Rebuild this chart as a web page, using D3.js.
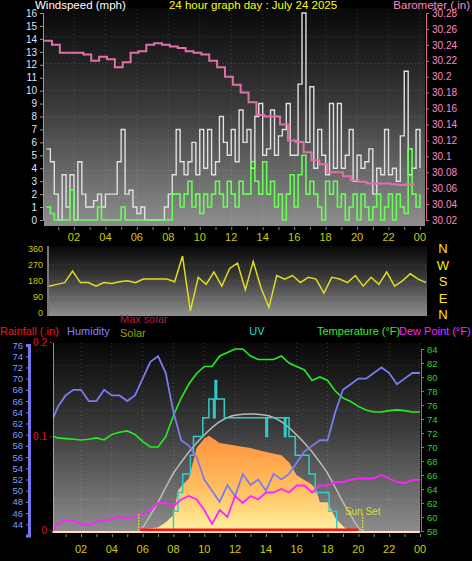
<!DOCTYPE html>
<html>
<head>
<meta charset="utf-8">
<script src="https://cdn.jsdelivr.net/npm/d3@7"></script>
<style>
  body { margin: 0; background: #000; }
  svg { display: block; font-family: "Liberation Sans", sans-serif; }
</style>
</head>
<body>
<svg id="chart" width="472" height="561"></svg>
<script>
// ---- data ----
const hourTicks = ['02', '04', '06', '08', '10', '12', '14', '16', '18', '20', '22', '00'];

// wind, every 15 min from 00:15
const windGust = [
  5.5, 4.5, 2, 0, 3.5, 1, 3.5, 0, 4.5, 2, 1, 1, 1.5, 2, 1, 2,
  2, 2, 4.5, 7, 2, 2.3, 1, 0.5, 1, 0, 0, 0, 0, 0, 1, 2,
  3.5, 7, 4.5, 3.5, 4.5, 6, 3.5, 7, 4, 7, 3.5, 4.5, 8, 6, 5, 7,
  4.5, 8.5, 6, 7, 4, 8, 9, 5, 5.5, 8.5, 5, 6.5, 7, 9, 5, 5,
  10.5, 16, 6, 10.3, 4, 7, 5, 3.5, 9, 4, 9, 4, 5, 7, 3, 5,
  4, 4.5, 5.5, 2, 4, 3.5, 7, 3.5, 4, 3, 6.5, 11.5, 3.5, 4, 7, 4
];
const windAvg = [
  1, 0.5, 0, 0, 0, 0, 2.3, 0, 0, 0, 0, 0, 0, 1, 0, 0,
  0, 0, 0, 1, 0, 0, 0, 0, 0, 0, 0, 0, 0, 0, 0, 0,
  2, 2, 1, 2, 3, 1, 2, 0.5, 2, 1, 2, 3, 2, 1, 3, 2,
  1, 3, 2, 2, 4.5, 3, 2, 4.5, 2, 3, 1, 2, 0, 2, 3.5, 1,
  3.5, 5, 2, 3, 2, 1, 0, 3, 2, 3, 1, 2, 0, 1, 2, 0,
  2, 1, 0, 1, 2, 0, 1, 2, 0, 2, 1, 0.5, 5.5, 2, 1, 2
];
// barometer, every 30 min from 00:30
const barometer = [
  30.245, 30.24, 30.23, 30.23, 30.23, 30.228, 30.22, 30.225, 30.222, 30.212,
  30.218, 30.23, 30.232, 30.24, 30.242, 30.24, 30.238, 30.236, 30.232, 30.23,
  30.228, 30.22, 30.212, 30.2, 30.19, 30.18, 30.168, 30.152, 30.15, 30.15,
  30.14, 30.12, 30.118, 30.105, 30.095, 30.09, 30.08, 30.08, 30.075, 30.07,
  30.068, 30.066, 30.066, 30.066, 30.065, 30.064, 30.065, 30.064
];
// wind direction, every 30 min from 00:00
const windDir = [
  150, 160, 170, 235, 170, 170, 150, 170, 165, 175, 180, 170, 190, 190, 190, 190,
  175, 320, 10, 200, 160, 230, 150, 250, 280, 130, 290, 140, 30, 210, 190, 210,
  170, 200, 190, 110, 200, 190, 170, 210, 150, 200, 160, 230, 150, 180, 220, 190, 170
];
// bottom panel, every 30 min from 00:00
const humidity = [
  63, 65, 67, 68, 68, 66, 66, 68, 67, 67, 66, 67, 70, 73, 74, 71,
  64, 59, 58, 56, 52, 50, 48, 51, 49, 53, 51, 52, 50, 53, 52, 53,
  55, 57, 58, 59, 59, 64, 68, 69, 70, 70, 71, 72, 71, 69, 70, 71, 71
];
const temperature = [
  71.5, 71.3, 71.2, 71.1, 71, 71.1, 71.3, 71, 71.8, 72.1, 72.3, 71.8, 70.8, 70, 70, 71.5,
  74.5, 77, 79, 80.5, 81.5, 81.5, 83, 83.5, 84, 84, 83, 82.5, 82.5, 82.5, 83, 82,
  81.5, 81, 79.5, 80, 79.5, 78, 77, 76.5, 75.8, 75.3, 75, 75, 75.2, 75.3, 75.2, 75, 75
];
const dewPoint = [
  58.2, 59, 59.5, 59.5, 59, 58.8, 59.3, 59.5, 59.7, 60, 59.8, 60, 60.5, 61, 62, 62,
  61.5, 62.5, 63, 62.5, 61, 59, 61, 60, 63, 62, 63, 62.5, 63.5, 63.5, 64, 63.5,
  64.5, 64.5, 63.5, 64.5, 64.5, 65, 65, 65.3, 65.5, 65.5, 65.5, 66, 65.5, 65, 64.8, 65.3, 65.3
];
const maxSolarHours = [5.8, 6, 6.5, 7, 7.5, 8, 8.5, 9, 9.5, 10, 11, 12, 13, 14, 15, 16, 16.5, 17, 17.5, 18, 18.5, 19, 19.5, 20, 20.2];
const maxSolar = [0, 20, 116, 217, 330, 440, 525, 605, 675, 737, 840, 890, 900, 890, 840, 737, 675, 605, 525, 440, 330, 217, 116, 20, 0];
const solarHours = [5.8, 6, 7, 7.5, 8, 8.3, 8.6, 9, 9.5, 10, 10.3, 11, 12, 13, 14, 15, 15.5, 16, 17, 17.3, 17.5, 18, 18.5, 19, 19.3];
const solar = [0, 5, 20, 60, 116, 310, 350, 400, 635, 710, 730, 675, 655, 635, 605, 580, 525, 425, 350, 300, 215, 215, 93, 30, 0];
const uvHours = [7.9, 8.0, 8.3, 8.6, 9.1, 9.3, 9.9, 10.3, 10.6, 10.7, 10.8, 11.3, 14.0, 14.1, 15.2, 15.3, 15.5, 15.9, 16.8, 17.2, 18.1, 18.6];
const uv = [0, 1, 2, 3, 4, 5, 6, 7, 6, 8, 7, 6, 5, 6, 5, 6, 5, 4, 3, 2, 1, 0];
const rainHours = [5.8, 20];
const rain = [0, 0];
const sunHours = [5.75, 20.28];

const svg = d3.select('#chart');
svg.append('rect').attr('width', 472).attr('height', 561).attr('fill', '#000');

const defs = svg.append('defs');
const bg = defs.append('linearGradient').attr('id', 'bg').attr('x1', 0).attr('y1', 0).attr('x2', 0).attr('y2', 1);
bg.append('stop').attr('offset', '0%').attr('stop-color', '#080808');
bg.append('stop').attr('offset', '45%').attr('stop-color', '#3a3a3a');
bg.append('stop').attr('offset', '100%').attr('stop-color', '#8e8e8e');

const sunGrad = defs.append('linearGradient').attr('id', 'sun')
  .attr('gradientUnits', 'userSpaceOnUse').attr('x1', 0).attr('y1', 440).attr('x2', 0).attr('y2', 530);
sunGrad.append('stop').attr('offset', '0%').attr('stop-color', '#ff9440');
sunGrad.append('stop').attr('offset', '55%').attr('stop-color', '#ffc060');
sunGrad.append('stop').attr('offset', '100%').attr('stop-color', '#fff0a0');

const yellow = '#cccc00';
const label = (x, y, t, color, size, anchor) => svg.append('text')
  .attr('x', x).attr('y', y).attr('fill', color).attr('font-size', size)
  .attr('text-anchor', anchor || 'start').text(t);

const gridLines = (g, xs, ys, x, y) => {
  g.selectAll(null).data(xs).join('line')
    .attr('x1', d => x(d)).attr('x2', d => x(d)).attr('y1', y.range()[1]).attr('y2', y.range()[0])
    .attr('stroke', 'rgba(255,255,255,0.18)').attr('stroke-dasharray', '1,3');
  g.selectAll(null).data(ys).join('line')
    .attr('x1', x.range()[0]).attr('x2', x.range()[1]).attr('y1', d => y(d)).attr('y2', d => y(d))
    .attr('stroke', 'rgba(255,255,255,0.18)').attr('stroke-dasharray', '1,3');
};
const hourVals = d3.range(2, 25, 2);

// ================= top panel =================
const xTop = d3.scaleLinear().domain([0, 24.3]).range([42.5, 424.7]);
const yWind = d3.scaleLinear().domain([0, 16]).range([220, 13]);
const yBaro = d3.scaleLinear().domain([30.02, 30.28]).range([220, 13]);

svg.append('rect').attr('x', 44).attr('y', 8).attr('width', 381).attr('height', 218).attr('fill', 'url(#bg)');
const topG = svg.append('g');
gridLines(topG, hourVals, d3.range(2, 16, 2), xTop, d3.scaleLinear().domain([0, 16]).range([224, 10]));

const windHours = windGust.map((d, i) => 0.25 * (i + 1));
topG.append('path').datum(windGust)
  .attr('d', d3.line().x((d, i) => xTop(windHours[i])).y(d => yWind(d)).curve(d3.curveStepAfter))
  .attr('fill', 'none').attr('stroke', '#e0e0e0').attr('stroke-width', 1.4);
topG.append('path').datum(windAvg)
  .attr('d', d3.line().x((d, i) => xTop(windHours[i])).y(d => yWind(d)).curve(d3.curveStepAfter))
  .attr('fill', 'none').attr('stroke', '#66ff55').attr('stroke-width', 1.6);
topG.append('path').datum(barometer)
  .attr('d', d3.line().x((d, i) => xTop(0.5 * (i + 1) - 0.4)).y(d => yBaro(d)).curve(d3.curveStepAfter))
  .attr('fill', 'none').attr('stroke', '#e070a8').attr('stroke-width', 2);

svg.append('g').attr('transform', 'translate(43,0)')
  .call(d3.axisLeft(yWind).ticks(16).tickSize(3).tickFormat(d3.format('d')))
  .call(g => g.select('.domain').attr('stroke', '#999'))
  .call(g => g.selectAll('line').attr('stroke', '#999'))
  .call(g => g.selectAll('text').attr('fill', '#dde4ff').attr('font-size', 10).attr('font-family', 'Liberation Sans'));
svg.append('g').attr('transform', 'translate(426,0)')
  .call(d3.axisRight(yBaro).tickValues(d3.range(30.02, 30.29, 0.02)).tickSize(3).tickFormat(d => +d.toFixed(2)))
  .call(g => g.select('.domain').attr('stroke', '#dd6699'))
  .call(g => g.selectAll('line').attr('stroke', '#dd6699'))
  .call(g => g.selectAll('text').attr('fill', '#ff88c4').attr('font-size', 10).attr('font-family', 'Liberation Sans'));
svg.append('g').attr('transform', 'translate(0,227)')
  .call(d3.axisBottom(xTop).tickValues(d3.range(1, 25)).tickSize(3).tickFormat(''))
  .call(g => g.select('.domain').remove())
  .call(g => g.selectAll('line').attr('stroke', '#888'));
svg.selectAll(null).data(hourTicks).join('text')
  .attr('x', (d, i) => xTop(hourVals[i])).attr('y', 241).attr('text-anchor', 'middle')
  .attr('fill', yellow).attr('font-size', 11).text(d => d);

label(35, 8.5, 'Windspeed (mph)', '#fff', 11.5);
label(253, 8.5, '24 hour graph day : July 24 2025', '#ffff00', 11.5, 'middle');
label(470, 8.5, 'Barometer (.in)', '#ff88c4', 11.5, 'end');

// ================= direction panel =================
const xMid = d3.scaleLinear().domain([0, 24]).range([49, 426]);
const yDir = d3.scaleLinear().domain([0, 360]).range([312.7, 249]);
svg.append('rect').attr('x', 48).attr('y', 246).attr('width', 379).attr('height', 70).attr('fill', 'url(#bg)');
const midG = svg.append('g');
gridLines(midG, [], [90, 180, 270], xMid, yDir);
midG.append('path').datum(windDir)
  .attr('d', d3.line().x((d, i) => xMid(i * 0.5)).y(d => yDir(d)))
  .attr('fill', 'none').attr('stroke', '#e0dd20').attr('stroke-width', 1.5);
svg.append('line').attr('x1', 48).attr('x2', 48).attr('y1', 246).attr('y2', 316).attr('stroke', '#777').attr('stroke-width', 2);
svg.append('g').attr('transform', 'translate(46,0)')
  .call(d3.axisLeft(yDir).tickValues([0, 90, 180, 270, 360]).tickSize(0).tickPadding(3))
  .call(g => g.select('.domain').remove())
  .call(g => g.selectAll('text').attr('fill', yellow).attr('font-size', 9).attr('font-family', 'Liberation Sans'));
['N', 'W', 'S', 'E', 'N'].forEach((c, i) => label(443, 253 + i * 16.5, c, '#ffee00', 13, 'middle'));

// ================= bottom panel =================
label(0, 335, 'Rainfall (.in)', '#ff1010', 11);
label(67, 335, 'Humidity', '#8080ff', 11);
label(120, 323, 'Max solar', '#b02040', 11);
label(120, 337, 'Solar', '#a0a000', 11);
label(257, 335, 'UV', '#22dddd', 11, 'middle');
label(317, 335, 'Temperature (°F)', '#33ee33', 11);
label(399, 335, 'Dew Point (°F)', '#ff22ff', 11);

const xBot = d3.scaleLinear().domain([0, 24]).range([50.2, 420]);
const yHum = d3.scaleLinear().domain([42, 76]).range([535.5, 345]);
const yTemp = d3.scaleLinear().domain([58, 84]).range([531, 349]);
const yRain = d3.scaleLinear().domain([0, 0.2]).range([530.3, 342]);
const ySolar = d3.scaleLinear().domain([0, 1450]).range([530, 343]);
const yUv = d3.scaleLinear().domain([0, 10]).range([530, 343]);
const bottomHours = humidity.map((d, i) => Math.max(0.2, i * 0.5));

svg.append('rect').attr('x', 53).attr('y', 343).attr('width', 367).attr('height', 190).attr('fill', 'url(#bg)');
const botG = svg.append('g');
gridLines(botG, hourVals, [48, 56, 64, 72], xBot, d3.scaleLinear().domain([42, 76]).range([533, 343]));

botG.append('path').datum(solar)
  .attr('d', d3.area().x((d, i) => xBot(solarHours[i])).y0(ySolar(0)).y1(d => ySolar(d)))
  .attr('fill', 'url(#sun)');
botG.append('path').datum(maxSolar)
  .attr('d', d3.line().x((d, i) => xBot(maxSolarHours[i])).y(d => ySolar(d)).curve(d3.curveMonotoneX))
  .attr('fill', 'none').attr('stroke', '#bbbbbb').attr('stroke-width', 1.5);
botG.append('path').datum(uv)
  .attr('d', d3.line().x((d, i) => xBot(uvHours[i])).y(d => yUv(d)).curve(d3.curveStepAfter))
  .attr('fill', 'none').attr('stroke', '#33cccc').attr('stroke-width', 1.5);
botG.append('path').datum(temperature)
  .attr('d', d3.line().x((d, i) => xBot(bottomHours[i])).y(d => yTemp(d)))
  .attr('fill', 'none').attr('stroke', '#22ee22').attr('stroke-width', 1.6);
botG.append('path').datum(humidity)
  .attr('d', d3.line().x((d, i) => xBot(bottomHours[i])).y(d => yHum(d)))
  .attr('fill', 'none').attr('stroke', '#7b7bf0').attr('stroke-width', 1.8);
botG.append('path').datum(dewPoint)
  .attr('d', d3.line().x((d, i) => xBot(bottomHours[i])).y(d => yTemp(d)))
  .attr('fill', 'none').attr('stroke', '#ff22ff').attr('stroke-width', 1.8);
botG.append('line').attr('x1', 53).attr('x2', 420).attr('y1', 532).attr('y2', 532)
  .attr('stroke', '#ffe0b0').attr('stroke-width', 2);
botG.append('path').datum(rain)
  .attr('d', d3.line().x((d, i) => xBot(rainHours[i])).y(d => yRain(d) - 0.5))
  .attr('stroke', '#ff1010').attr('stroke-width', 2.5);
botG.selectAll(null).data(sunHours).join('line')
  .attr('x1', d => xBot(d)).attr('x2', d => xBot(d)).attr('y1', 514).attr('y2', 532)
  .attr('stroke', '#dddd22').attr('stroke-width', 1.2).attr('stroke-dasharray', '2,1');
label(xBot(sunHours[1]), 515, 'Sun Set', '#dddd22', 10, 'middle');

svg.append('line').attr('x1', 53).attr('x2', 53).attr('y1', 343).attr('y2', 533).attr('stroke', '#bbb').attr('stroke-width', 1.5);
// humidity axis
svg.append('g').attr('transform', 'translate(29,0)')
  .call(d3.axisLeft(yHum).tickValues(d3.range(44, 77, 2)).tickSize(3).tickFormat(d3.format('d')))
  .call(g => g.select('.domain').attr('stroke', '#7777ee').attr('stroke-width', 3))
  .call(g => g.selectAll('line').attr('stroke', '#7777ee'))
  .call(g => g.selectAll('text').attr('fill', '#7f9cff').attr('font-size', 9.5).attr('font-family', 'Liberation Sans'));
// rainfall axis
svg.append('g').attr('transform', 'translate(52,0)')
  .call(d3.axisLeft(yRain).tickValues([0, 0.1, 0.2]).tickSize(2).tickFormat(d => d === 0 ? '0' : d))
  .call(g => g.select('.domain').attr('stroke', '#000'))
  .call(g => g.selectAll('line').attr('stroke', '#dd1111'))
  .call(g => g.selectAll('text').attr('fill', '#ee1111').attr('font-size', 10).attr('font-family', 'Liberation Sans'));
// temperature axis
svg.append('g').attr('transform', 'translate(421,0)')
  .call(d3.axisRight(yTemp).tickValues(d3.range(58, 85, 2)).tickSize(3).tickFormat(d3.format('d')))
  .call(g => g.select('.domain').attr('stroke', '#22bb22'))
  .call(g => g.selectAll('line').attr('stroke', '#22bb22'))
  .call(g => g.selectAll('text').attr('fill', '#33cc33').attr('font-size', 9.5).attr('font-family', 'Liberation Sans'));
svg.append('g').attr('transform', 'translate(0,534)')
  .call(d3.axisBottom(xBot).tickValues(d3.range(1, 25)).tickSize(3).tickFormat(''))
  .call(g => g.select('.domain').remove())
  .call(g => g.selectAll('line').attr('stroke', '#888'));
svg.selectAll(null).data(hourTicks).join('text')
  .attr('x', (d, i) => xBot(hourVals[i])).attr('y', 553).attr('text-anchor', 'middle')
  .attr('fill', yellow).attr('font-size', 11).text(d => d);
</script>
</body>
</html>
